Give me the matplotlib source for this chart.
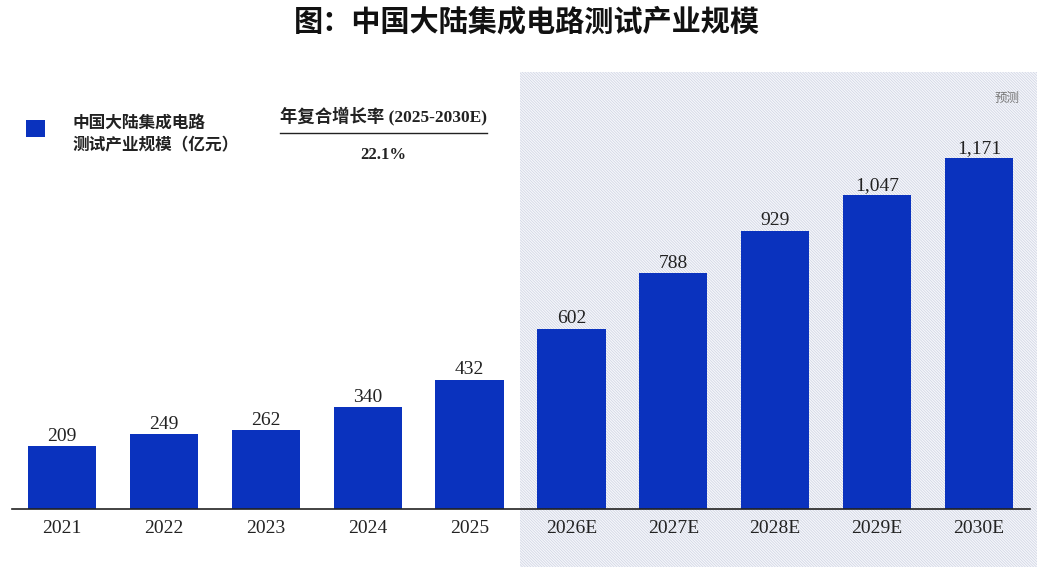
import matplotlib
matplotlib.use('Agg')
import matplotlib.pyplot as plt
import matplotlib.transforms as mtransforms
from matplotlib.patches import Rectangle

years = ['2021', '2022', '2023', '2024', '2025', '2026E', '2027E', '2028E', '2029E', '2030E']
values = [209, 249, 262, 340, 432, 602, 788, 929, 1047, 1171]
forecast_start = 5

title = '图：中国大陆集成电路测试产业规模'
legend_label = '中国大陆集成电路\n测试产业规模（亿元）'
cagr_title = '年复合增长率 (2025-2030E)'
cagr_value = '22.1%'
forecast_label = '预测'

blue = '#0a32be'
serif = ['Liberation Serif', 'Noto Sans CJK SC']
cjk = ['Noto Sans CJK SC', 'DejaVu Sans']
plt.rcParams['hatch.linewidth'] = 0.5

fig = plt.figure(figsize=(10.53, 5.76), dpi=100)
W, H = 1053, 576
# axes: x pixels 12..1030, y pixels 60..509 (from top)
ax = fig.add_axes([12 / W, 1 - 509 / H, (1030 - 12) / W, (509 - 60) / H])

x = list(range(len(years)))
ax.bar(x, values, width=0.67, color=blue, zorder=3)
ax.set_xlim(-0.49, 9.5)
ax.set_ylim(0, 1498)

for xi, v in zip(x, values):
    ax.text(xi, v + 4, f'{v:,}', ha='center', va='bottom', fontsize=14,
            family=serif, color='#222222', zorder=4)

ax.set_xticks(x)
ax.set_xticklabels(years, family=serif, fontsize=14, color='#222222')
ax.tick_params(axis='x', length=0, pad=8)
ax.set_yticks([])
for s in ['left', 'right', 'top']:
    ax.spines[s].set_visible(False)
ax.spines['bottom'].set_color('#222222')
ax.spines['bottom'].set_linewidth(1.2)
ax.spines['bottom'].set_zorder(4)

# forecast shading
trans = mtransforms.blended_transform_factory(ax.transData, ax.transAxes)
shade = Rectangle((forecast_start - 0.5, -0.129), 9.57 - (forecast_start - 0.5), 0.973 + 0.129,
                  transform=trans, facecolor='#f6f7fb', edgecolor='#cdd2e2',
                  hatch='\\' * 12, linewidth=0, clip_on=False, zorder=0)
ax.add_patch(shade)
ax.text(9.4, 0.915, forecast_label, transform=trans, ha='right', va='center',
        fontsize=9, style='italic', color='#777777', family=cjk)

# title
fig.text(0.5, 1 - 21 / H, title, ha='center', va='center', fontsize=21,
         fontweight='bold', family=cjk, color='#111111')

# legend
fig.patches.append(Rectangle((26 / W, 1 - 137 / H), 19 / W, 17 / H,
                             transform=fig.transFigure, facecolor=blue, edgecolor='none'))
fig.text(72 / W, 1 - 134 / H, legend_label, ha='left', va='center', fontsize=12,
         fontweight='bold', family=cjk, color='#222222', linespacing=1.35)

# CAGR box
fig.text(383 / W, 1 - 116 / H, cagr_title, ha='center', va='center', fontsize=12.5,
         fontweight='bold', family=serif, color='#222222')
fig.add_artist(plt.Line2D([280 / W, 487 / W], [1 - 133 / H, 1 - 133 / H],
                          transform=fig.transFigure, color='#222222', linewidth=1))
fig.text(383 / W, 1 - 155 / H, cagr_value, ha='center', va='center', fontsize=12,
         fontweight='bold', family=serif, color='#222222')

fig.savefig('out.png', dpi=100)
